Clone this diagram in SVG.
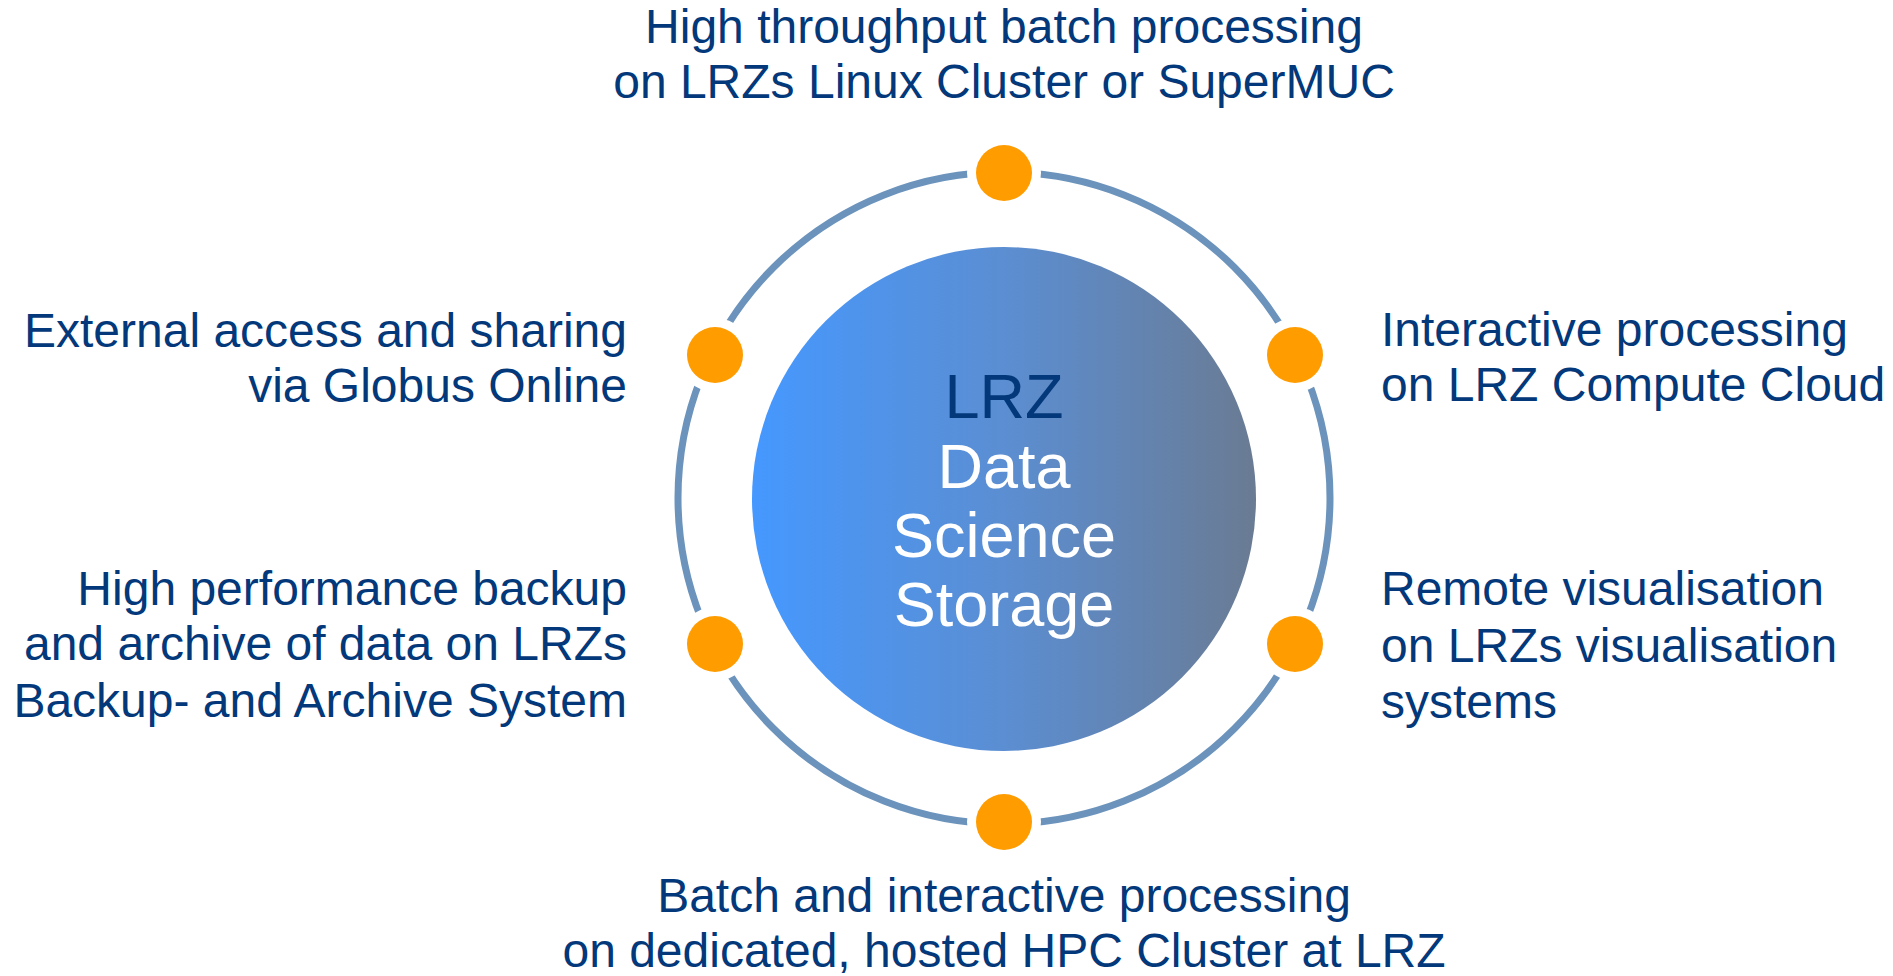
<svg xmlns="http://www.w3.org/2000/svg" width="1893" height="976" viewBox="0 0 1893 976">
<defs>
<linearGradient id="core" x1="0" y1="0" x2="1" y2="0">
<stop offset="0" stop-color="#4598ff"/>
<stop offset="0.5" stop-color="#5b8ed2"/>
<stop offset="1" stop-color="#6a7b93"/>
</linearGradient>
<style>
.lbl{font-family:"Liberation Sans",Arial,sans-serif;font-size:48px;fill:#03387a;}
.mid{text-anchor:middle;}
.end{text-anchor:end;}
.ring{fill:none;stroke:#6b93bc;stroke-width:7;}
.halo{fill:#ffffff;}
.dot{fill:#ff9c00;}
.core{font-family:"Liberation Sans",Arial,sans-serif;font-size:63px;text-anchor:middle;}
</style>
</defs>
<rect width="1893" height="976" fill="#ffffff"/>
<g id="connectors">
<circle class="ring" cx="1004" cy="498" r="326"/>
</g>
<g id="core">
<circle cx="1004" cy="499" r="252" fill="url(#core)"/>
<text class="core" x="1004" y="418" fill="#03387a">LRZ</text>
<text class="core" x="1004" y="488" fill="#ffffff">Data</text>
<text class="core" x="1004" y="557" fill="#ffffff">Science</text>
<text class="core" x="1004" y="626" fill="#ffffff">Storage</text>
</g>
<g id="node-top">
<circle class="halo" cx="1004" cy="173" r="37"/>
<circle class="dot" cx="1004" cy="173" r="28"/>
<text class="lbl mid" x="1004" y="43">High throughput batch processing</text>
<text class="lbl mid" x="1004" y="98">on LRZs Linux Cluster or SuperMUC</text>
</g>
<g id="node-upper-right">
<circle class="halo" cx="1295" cy="355" r="37"/>
<circle class="dot" cx="1295" cy="355" r="28"/>
<text class="lbl" x="1381" y="346">Interactive processing</text>
<text class="lbl" x="1381" y="401">on LRZ Compute Cloud</text>
</g>
<g id="node-lower-right">
<circle class="halo" cx="1295" cy="644" r="37"/>
<circle class="dot" cx="1295" cy="644" r="28"/>
<text class="lbl" x="1381" y="605">Remote visualisation</text>
<text class="lbl" x="1381" y="662">on LRZs visualisation</text>
<text class="lbl" x="1381" y="718">systems</text>
</g>
<g id="node-bottom">
<circle class="halo" cx="1004" cy="822" r="37"/>
<circle class="dot" cx="1004" cy="822" r="28"/>
<text class="lbl mid" x="1004" y="912">Batch and interactive processing</text>
<text class="lbl mid" x="1004" y="967">on dedicated, hosted HPC Cluster at LRZ</text>
</g>
<g id="node-lower-left">
<circle class="halo" cx="715" cy="644" r="37"/>
<circle class="dot" cx="715" cy="644" r="28"/>
<text class="lbl end" x="627" y="605">High performance backup</text>
<text class="lbl end" x="627" y="660">and archive of data on LRZs</text>
<text class="lbl end" x="627" y="717">Backup- and Archive System</text>
</g>
<g id="node-upper-left">
<circle class="halo" cx="715" cy="355" r="37"/>
<circle class="dot" cx="715" cy="355" r="28"/>
<text class="lbl end" x="627" y="347">External access and sharing</text>
<text class="lbl end" x="627" y="402">via Globus Online</text>
</g>
</svg>
